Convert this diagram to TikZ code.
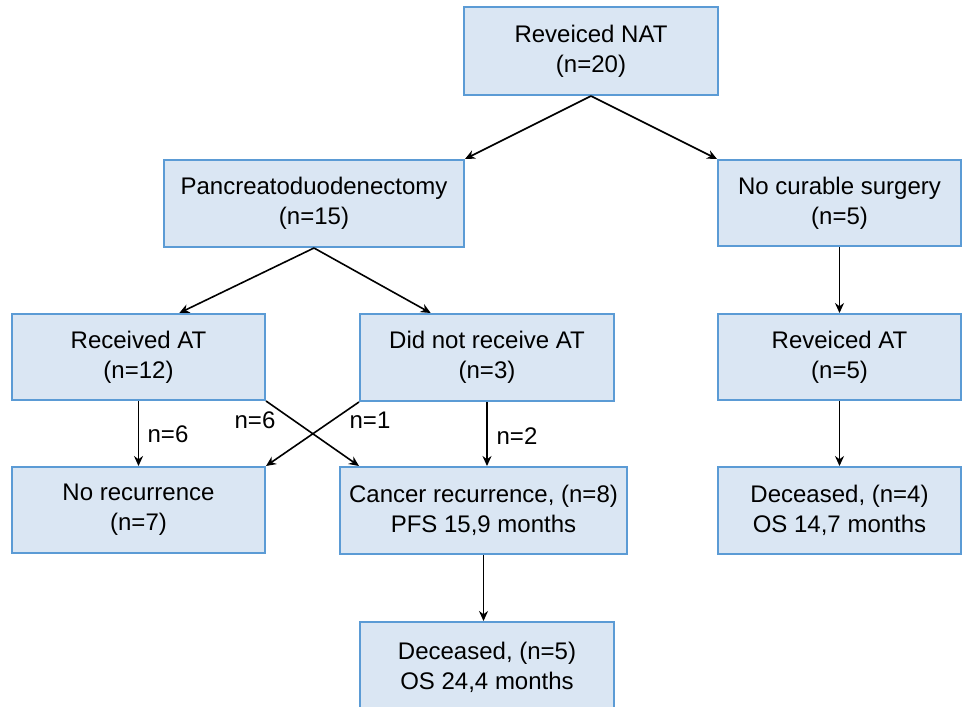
\documentclass[tikz,border=0pt]{standalone}
\usepackage{fontspec}
\setmainfont{Liberation Sans}
\usetikzlibrary{arrows.meta,calc}
\definecolor{boxfill}{HTML}{DAE6F3}
\definecolor{boxline}{HTML}{5B9BD5}

\begin{document}
\begin{tikzpicture}[x=0.5pt,y=-0.5pt,
  box/.style={draw=boxline,fill=boxfill,line width=1pt,align=center,inner sep=0pt,
    font=\fontsize{12}{15}\selectfont,execute at begin node={\rule{0pt}{14pt}}},
  arr/.style={-{Stealth[length=5pt,width=4.5pt]},line width=0.8pt},
  lbl/.style={font=\fontsize{12}{15}\selectfont}]
  \useasboundingbox (0,0) rectangle (962,706);

  % boxes
  \node[box,minimum width=127pt,minimum height=44pt] (nat) at (591,51) {Reveiced NAT\\(n=20)};
  \node[box,minimum width=150pt,minimum height=43.5pt] (pd) at (314,203.5) {Pancreatoduodenectomy\\(n=15)};
  \node[box,minimum width=121.5pt,minimum height=43pt] (nocure) at (839.5,203) {No curable surgery\\(n=5)};
  \node[box,minimum width=126.5pt,minimum height=43pt] (recat) at (138.5,357) {Received AT\\(n=12)};
  \node[box,minimum width=127pt,minimum height=43.5pt] (noat) at (487,357.5) {Did not receive AT\\(n=3)};
  \node[box,minimum width=121.5pt,minimum height=43pt] (revat) at (839.5,357) {Reveiced AT\\(n=5)};
  \node[box,minimum width=126.5pt,minimum height=43pt] (norec) at (138.5,510) {No recurrence\\(n=7)};
  \node[box,minimum width=143.5pt,minimum height=43.5pt] (rec) at (483.5,510.5) {Cancer recurrence, (n=8)\\PFS 15,9 months};
  \node[box,minimum width=121.5pt,minimum height=43.5pt] (decr) at (839.5,510.5) {Deceased, (n=4)\\OS 14,7 months};
  \node[box,minimum width=127pt,minimum height=45pt] (decl) at (487,667) {Deceased, (n=5)\\OS 24,4 months};

  % labels
  \node[lbl] (lsix) at (168,434) {n=6};
  \node[lbl] (lcross) at (255,420) {n=6};
  \node[lbl] (lone) at (370,420) {n=1};
  \node[lbl] (ltwo) at (517,436) {n=2};

  % arrows
  \draw[arr] (nat.south) -- (pd.north east);
  \draw[arr] (nat.south) -- (nocure.north west);
  \draw[arr] (pd.south) -- ($(recat.north west)!0.66!(recat.north east)$);
  \draw[arr] (pd.south) -- ($(noat.north west)!0.28!(noat.north east)$);
  \draw[arr] (nocure.south) -- (revat.north);
  \draw[arr] (recat.south) -- (norec.north);
  \draw[arr] (recat.south east) -- ($(rec.north west)+(20,0)$);
  \draw[arr] (noat.south west) -- (norec.north east);
  \draw[arr] (noat.south) -- (noat.south |- rec.north);
  \draw[arr] (rec.south) -- (rec.south |- decl.north);
  \draw[arr] (revat.south) -- (decr.north);
\end{tikzpicture}
\end{document}
